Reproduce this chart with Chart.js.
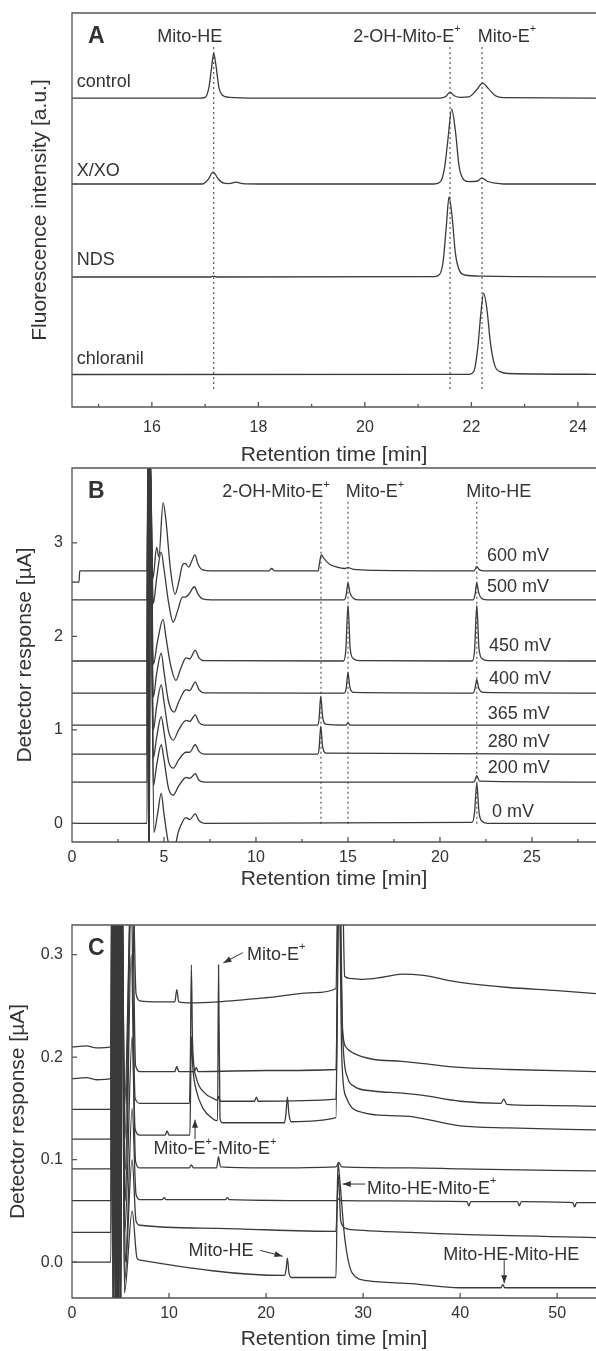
<!DOCTYPE html>
<html>
<head>
<meta charset="utf-8">
<script src="https://cdn.jsdelivr.net/npm/chart.js@4.4.0/dist/chart.umd.min.js"></script>
<style>
  body { margin: 0; background: #fff; width: 596px; height: 1351px; position: relative; overflow: hidden; }
  canvas { position: absolute; left: 0; }
</style>
</head>
<body>
<canvas id="chartA" width="596" height="470" style="top:0"></canvas>
<canvas id="chartB" width="596" height="435" style="top:465px"></canvas>
<canvas id="chartC" width="596" height="451" style="top:900px"></canvas>
<script>
// ---- panel A: fluorescence traces, [time, intensity] ----
const aTicks = [16, 18, 20, 22, 24];
const aMinor = [15, 17, 19, 21, 23];
const aMarkers = [17.16, 21.6, 22.2];
const aControl = [[14.5,78.4],[16.9,78.4],[17.0,78.6],[17.07,81],[17.12,86],[17.16,89.8],[17.2,87],[17.26,81],[17.32,79.2],[17.45,78.6],[18,78.4],[21.4,78.4],[21.52,78.8],[21.6,79.9],[21.68,79.0],[21.8,78.6],[21.95,78.7],[22.1,80.5],[22.21,82.2],[22.32,80.8],[22.45,79.0],[22.6,78.5],[24.4,78.4]];
const aXXO = [[14.5,56.6],[16.95,56.6],[17.05,57.6],[17.15,59.6],[17.25,57.8],[17.35,56.8],[17.45,56.7],[17.58,57.1],[17.7,56.7],[18,56.6],[21.3,56.6],[21.42,57.2],[21.5,61],[21.56,68],[21.63,75.6],[21.7,70],[21.77,61],[21.85,57.8],[21.95,57.2],[22.1,57.3],[22.2,58.1],[22.3,57.3],[22.45,56.8],[22.6,56.6],[24.4,56.6]];
const aNDS = [[14.5,33],[17.1,33],[17.16,33.2],[17.22,33],[21.3,33.1],[21.4,33.6],[21.47,37],[21.53,46],[21.58,53.3],[21.64,48],[21.7,39],[21.78,34.5],[21.88,33.5],[22.2,33.2],[24.4,33]];
const aChloranil = [[14.5,8.25],[21.95,8.3],[22.05,9.2],[22.12,15],[22.18,24],[22.23,28.9],[22.29,25],[22.36,16],[22.44,10.5],[22.55,8.9],[22.7,8.5],[24.4,8.3]];

// ---- panel B: detector response at each potential, [time, µA] ----
const bTicksX = [0, 5, 10, 15, 20, 25];
const bMinorX = [2.5, 7.5, 12.5, 17.5, 22.5, 27.5];
const bTicksY = [0, 1, 2, 3];
const bMarkers = [13.53, 15.0, 22.0];
const b600 = [[0,2.58],[0.38,2.58],[0.42,2.70],[4.08,2.70],[4.13,4.0],[4.18,-0.4],[4.23,4.0],[4.4,2.62],[4.6,2.95],[4.72,2.85],[4.95,3.43],[5.1,3.25],[5.35,2.72],[5.6,2.45],[5.8,2.58],[6.0,2.76],[6.15,2.78],[6.35,2.74],[6.5,2.8],[6.68,2.87],[6.85,2.77],[7.1,2.71],[7.6,2.70],[10.7,2.70],[10.85,2.725],[11.0,2.70],[13.38,2.70],[13.45,2.78],[13.55,2.87],[13.7,2.83],[14.0,2.77],[14.4,2.74],[14.8,2.725],[15.0,2.735],[15.3,2.715],[16.5,2.705],[21.85,2.70],[22.0,2.745],[22.15,2.71],[22.4,2.70],[28.6,2.70]];
const b500 = [[0,2.39],[4.08,2.39],[4.14,4.0],[4.19,-0.4],[4.24,4.0],[4.42,2.35],[4.6,2.62],[4.85,2.90],[5.0,2.72],[5.25,2.36],[5.5,2.15],[5.75,2.28],[6.0,2.42],[6.15,2.42],[6.35,2.45],[6.65,2.53],[6.85,2.45],[7.1,2.40],[7.6,2.39],[14.8,2.39],[14.9,2.44],[15.0,2.57],[15.1,2.47],[15.3,2.405],[15.6,2.39],[21.8,2.39],[21.9,2.44],[22.0,2.57],[22.1,2.47],[22.3,2.40],[22.6,2.39],[28.6,2.39]];
const b450 = [[0,1.736],[4.08,1.736],[4.13,4.0],[4.19,-0.4],[4.25,4.0],[4.42,1.7],[4.65,1.95],[4.95,2.18],[5.1,2.0],[5.35,1.7],[5.65,1.53],[5.9,1.65],[6.2,1.77],[6.4,1.76],[6.7,1.85],[6.9,1.77],[7.2,1.74],[14.75,1.736],[14.88,1.85],[15.0,2.33],[15.12,1.87],[15.3,1.76],[15.6,1.74],[21.75,1.736],[21.88,1.85],[22.0,2.33],[22.12,1.87],[22.3,1.76],[22.6,1.74],[28.6,1.736]];
const b400 = [[0,1.393],[4.08,1.393],[4.12,4.0],[4.18,-0.4],[4.24,4.0],[4.42,1.35],[4.6,1.6],[4.85,1.82],[5.0,1.62],[5.25,1.3],[5.55,1.19],[5.8,1.3],[6.2,1.43],[6.4,1.42],[6.7,1.51],[6.9,1.43],[7.2,1.395],[14.8,1.393],[14.9,1.44],[15.0,1.61],[15.1,1.46],[15.3,1.40],[21.8,1.393],[21.9,1.44],[22.0,1.54],[22.1,1.45],[22.35,1.40],[28.6,1.393]];
const b365 = [[0,1.05],[4.08,1.05],[4.14,4.0],[4.2,-0.4],[4.25,4.0],[4.42,1.0],[4.6,1.25],[4.85,1.48],[5.0,1.3],[5.25,0.98],[5.5,0.89],[5.8,1.0],[6.2,1.10],[6.4,1.09],[6.7,1.16],[6.9,1.08],[7.2,1.05],[13.35,1.05],[13.43,1.12],[13.52,1.36],[13.62,1.14],[13.8,1.06],[14.9,1.05],[15.0,1.08],[15.1,1.05],[28.6,1.05]];
const b280 = [[0,0.74],[4.08,0.74],[4.13,4.0],[4.18,-0.4],[4.23,4.0],[4.42,0.7],[4.6,0.92],[4.85,1.14],[5.0,0.98],[5.25,0.66],[5.5,0.59],[5.8,0.68],[6.2,0.76],[6.4,0.76],[6.7,0.84],[6.9,0.77],[7.2,0.74],[13.35,0.74],[13.43,0.8],[13.52,1.04],[13.62,0.82],[13.8,0.75],[28.6,0.74]];
const b200 = [[0,0.44],[4.08,0.44],[4.12,4.0],[4.19,-0.4],[4.24,4.0],[4.42,0.4],[4.6,0.62],[4.85,0.84],[5.0,0.68],[5.25,0.37],[5.5,0.30],[5.8,0.4],[6.2,0.49],[6.4,0.48],[6.7,0.53],[6.9,0.46],[7.2,0.44],[21.85,0.44],[22.0,0.51],[22.15,0.45],[28.6,0.44]];
const b0 = [[0,0],[4.08,0],[4.13,4.0],[4.2,-0.4],[4.26,4.0],[4.45,-0.1],[4.65,0.1],[4.85,0.32],[5.0,0.1],[5.25,-0.22],[5.5,-0.3],[5.8,-0.08],[6.2,0.06],[6.4,0.04],[6.7,0.10],[6.9,0.03],[7.2,0.0],[21.75,0.01],[21.88,0.12],[22.0,0.43],[22.12,0.12],[22.3,0.02],[22.6,0],[28.6,0]];

// ---- panel C: stacked chromatograms, [time, µA] ----
const cTicksX = [0, 10, 20, 30, 40, 50];
const cTicksY = [0, 0.1, 0.2, 0.3];
const c1 = [[0,0.21],[1.5,0.211],[2.5,0.209],[4.0,0.21],[4.1,0.4],[4.22,-0.05],[4.34,0.4],[4.46,-0.05],[4.58,0.4],[4.7,-0.05],[4.82,0.4],[4.94,-0.05],[5.06,0.4],[5.4,0.15],[6.2,0.4],[6.6,0.262],[7.0,0.255],[9,0.254],[10.6,0.254],[10.8,0.266],[11.0,0.254],[12.3,0.253],[15,0.254],[20,0.258],[25,0.263],[27.2,0.267],[27.45,0.4],[27.8,0.4],[28.1,0.279],[28.6,0.277],[30,0.276],[32,0.278],[34,0.281],[36,0.28],[40,0.273],[45,0.268],[50,0.265],[54,0.262]];
const c2 = [[0,0.179],[1.5,0.18],[2.5,0.178],[4.0,0.179],[4.115,0.4],[4.235,-0.05],[4.355,0.4],[4.475,-0.05],[4.595,0.4],[4.715,-0.05],[4.835,0.4],[4.955,-0.05],[5.075,0.4],[5.45,0.12],[6.15,0.4],[6.55,0.192],[7.0,0.186],[10.6,0.186],[10.8,0.191],[11.0,0.186],[12.6,0.186],[12.8,0.19],[13.0,0.186],[20,0.187],[27.2,0.188],[27.5,0.4],[27.85,0.23],[28.3,0.209],[29,0.204],[31,0.198],[34,0.196],[36,0.194],[40,0.19],[45,0.188],[54,0.186]];
const c3 = [[0,0.149],[4.0,0.149],[4.13,0.4],[4.25,-0.05],[4.37,0.4],[4.49,-0.05],[4.61,0.4],[4.73,-0.05],[4.85,0.4],[4.97,-0.05],[5.09,0.4],[5.5,0.09],[6.1,0.35],[6.5,0.16],[7.0,0.155],[12.1,0.155],[12.2,0.2],[12.3,0.29],[12.42,0.215],[12.8,0.18],[13.7,0.165],[14.5,0.16],[15.0,0.158],[15.1,0.162],[15.3,0.157],[18.8,0.157],[19.0,0.161],[19.2,0.157],[27.2,0.159],[27.55,0.4],[27.9,0.22],[28.4,0.18],[29,0.172],[31,0.167],[34,0.165],[36,0.163],[40,0.157],[44.2,0.155],[44.5,0.159],[44.8,0.154],[48,0.153],[54,0.152]];
const c4 = [[0,0.12],[4.0,0.12],[4.145,0.4],[4.265,-0.05],[4.385,0.4],[4.505,-0.05],[4.625,0.4],[4.745,-0.05],[4.865,0.4],[4.985,-0.05],[5.105,0.4],[5.5,0.06],[6.1,0.3],[6.5,0.13],[7.0,0.124],[9.6,0.124],[9.8,0.128],[10.0,0.124],[12.15,0.124],[12.3,0.22],[12.45,0.19],[12.8,0.168],[13.5,0.15],[14.5,0.14],[15.0,0.138],[15.1,0.29],[15.25,0.14],[15.5,0.136],[21.9,0.136],[22.05,0.145],[22.2,0.161],[22.35,0.145],[22.6,0.137],[27.2,0.141],[27.5,0.4],[27.8,0.2],[28.3,0.16],[30,0.146],[33,0.143],[35,0.142],[40,0.133],[45,0.131],[54,0.129]];
const c5 = [[0,0.091],[4.0,0.091],[4.16,0.4],[4.28,-0.05],[4.4,0.4],[4.52,-0.05],[4.64,0.4],[4.76,-0.05],[4.88,0.4],[5.0,-0.05],[5.12,0.4],[5.45,0.03],[6.2,0.22],[6.55,0.098],[7.0,0.092],[12.1,0.092],[12.3,0.095],[12.5,0.092],[14.9,0.092],[15.1,0.103],[15.3,0.093],[20,0.092],[27.2,0.093],[27.5,0.097],[27.8,0.093],[35,0.092],[40,0.091],[54,0.089]];
const c6 = [[0,0.06],[4.0,0.06],[4.175,0.4],[4.295,-0.05],[4.415,0.4],[4.535,-0.05],[4.655,0.4],[4.775,-0.05],[4.895,0.4],[5.015,-0.05],[5.135,0.4],[5.5,0.0],[6.2,0.15],[6.6,0.066],[7.0,0.061],[9.3,0.061],[9.5,0.063],[9.7,0.061],[15.8,0.061],[16.0,0.063],[16.2,0.061],[27.3,0.06],[27.5,0.062],[27.7,0.06],[40.7,0.059],[40.9,0.055],[41.1,0.059],[45.9,0.059],[46.1,0.055],[46.3,0.059],[51.6,0.058],[51.8,0.054],[52.0,0.058],[54,0.058]];
const c7 = [[0,0.029],[4.0,0.029],[4.19,0.4],[4.31,-0.05],[4.43,0.4],[4.55,-0.05],[4.67,0.4],[4.79,-0.05],[4.91,0.4],[5.03,-0.05],[5.15,0.4],[5.4,-0.02],[6.2,0.1],[6.6,0.04],[7.0,0.036],[15,0.033],[27.2,0.03],[27.45,0.085],[27.7,0.04],[28.2,0.033],[30,0.031],[35,0.029],[40,0.027],[54,0.024]];
const c8 = [[0,0.0],[4.0,0.0],[4.205,0.4],[4.325,-0.05],[4.445,0.4],[4.565,-0.05],[4.685,0.4],[4.805,-0.05],[4.925,0.4],[5.045,-0.05],[5.165,0.4],[5.4,-0.03],[6.2,0.05],[6.7,0.004],[7.0,0.002],[21.9,-0.013],[22.05,-0.008],[22.2,0.004],[22.35,-0.01],[22.6,-0.015],[27.2,-0.015],[27.4,0.097],[27.6,0.08],[28.1,0.024],[28.9,-0.011],[30.4,-0.018],[35,-0.021],[40,-0.025],[44.2,-0.025],[44.4,-0.022],[44.6,-0.025],[54,-0.025]];

const FAM = '"Liberation Sans", Arial, Helvetica, sans-serif';
const INK = '#333';
const LINE = '#3a3a3a';

function richText(ctx, text, px, py, align, size, weight) {
  const parts = text.split('\u207A');
  const main = `${weight} ${size}px ${FAM}`;
  const sup = `${weight} ${Math.round(size * 0.6)}px ${FAM}`;
  let w = 0;
  parts.forEach((p, i) => {
    ctx.font = main; w += ctx.measureText(p).width;
    if (i < parts.length - 1) { ctx.font = sup; w += ctx.measureText('+').width; }
  });
  let cx = align === 'center' ? px - w / 2 : align === 'right' ? px - w : px;
  ctx.textAlign = 'left';
  ctx.textBaseline = 'middle';
  parts.forEach((p, i) => {
    ctx.font = main; ctx.fillText(p, cx, py); cx += ctx.measureText(p).width;
    if (i < parts.length - 1) {
      ctx.font = sup; ctx.fillText('+', cx, py - size * 0.42); cx += ctx.measureText('+').width;
    }
  });
}

// frame (no right edge, the figure is cut there), inward ticks, labels, arrows
const decor = {
  id: 'decor',
  afterDatasetsDraw(chart, args, o) {
    const { ctx, chartArea: a, scales: { x, y } } = chart;
    ctx.save();
    ctx.strokeStyle = '#555';
    ctx.lineWidth = 1.3;
    ctx.beginPath();
    ctx.moveTo(a.right + 2, a.top); ctx.lineTo(a.left, a.top);
    ctx.lineTo(a.left, a.bottom); ctx.lineTo(a.right + 2, a.bottom);
    (o.xMajor || []).forEach(v => { const p = x.getPixelForValue(v); ctx.moveTo(p, a.bottom); ctx.lineTo(p, a.bottom - 5); });
    (o.xMinor || []).forEach(v => { const p = x.getPixelForValue(v); ctx.moveTo(p, a.bottom); ctx.lineTo(p, a.bottom - 3); });
    (o.yMajor || []).forEach(v => { const p = y.getPixelForValue(v); ctx.moveTo(a.left, p); ctx.lineTo(a.left + 5, p); });
    ctx.stroke();
    ctx.fillStyle = INK;
    richText(ctx, o.letter, a.left + 16, a.top + 24, 'left', 23, 'bold');
    (o.notes || []).forEach(n => richText(ctx, n.text, x.getPixelForValue(n.x), y.getPixelForValue(n.y), n.align || 'left', 18, 'normal'));
    ctx.strokeStyle = INK;
    ctx.lineWidth = 1;
    (o.arrows || []).forEach(([x0, y0, x1, y1]) => {
      const p0 = [x.getPixelForValue(x0), y.getPixelForValue(y0)];
      const p1 = [x.getPixelForValue(x1), y.getPixelForValue(y1)];
      const ang = Math.atan2(p1[1] - p0[1], p1[0] - p0[0]);
      ctx.beginPath(); ctx.moveTo(p0[0], p0[1]); ctx.lineTo(p1[0], p1[1]); ctx.stroke();
      ctx.beginPath();
      ctx.moveTo(p1[0], p1[1]);
      ctx.lineTo(p1[0] - 8 * Math.cos(ang) + 3 * Math.sin(ang), p1[1] - 8 * Math.sin(ang) - 3 * Math.cos(ang));
      ctx.lineTo(p1[0] - 8 * Math.cos(ang) - 3 * Math.sin(ang), p1[1] - 8 * Math.sin(ang) + 3 * Math.cos(ang));
      ctx.closePath(); ctx.fill();
    });
    ctx.restore();
  }
};

function panel(id, s) {
  const datasets = s.series.map(pts => ({
    data: pts.map(([x, y]) => ({ x, y })),
    borderColor: LINE, borderWidth: 1.3, cubicInterpolationMode: 'monotone', pointRadius: 0, fill: false
  }));
  s.markers.forEach(t => datasets.push({
    data: [{ x: t, y: s.markerSpan[0] }, { x: t, y: s.markerSpan[1] }],
    borderColor: '#666', borderWidth: 1.3, borderDash: [2, 3], pointRadius: 0, fill: false
  }));
  const tickFont = { family: FAM, size: 16 };
  const titleFont = { family: FAM, size: 21, lineHeight: 1.1 };
  return new Chart(document.getElementById(id), {
    type: 'line',
    data: { datasets },
    plugins: [decor],
    options: {
      responsive: false,
      animation: false,
      layout: { padding: { top: s.top, left: 0, right: 0, bottom: 0 } },
      plugins: {
        legend: { display: false },
        tooltip: { enabled: false },
        decor: { letter: s.letter, xMajor: s.xTicks, xMinor: s.xMinor, yMajor: s.yTicks, notes: s.notes, arrows: s.arrows }
      },
      scales: {
        x: {
          type: 'linear', min: s.xRange[0], max: s.xRange[1],
          afterBuildTicks: sc => { sc.ticks = s.xTicks.map(v => ({ value: v })); },
          afterFit: sc => { sc.height = s.xHeight; sc.paddingLeft = 0; sc.paddingRight = 0; },
          grid: { display: false, drawTicks: false }, border: { display: false },
          ticks: { font: tickFont, color: INK, padding: s.xPad, maxRotation: 0, autoSkip: false },
          title: { display: true, text: 'Retention time [min]', font: titleFont, color: INK, padding: { top: 0, bottom: s.xTitlePad } }
        },
        y: {
          type: 'linear', min: s.yRange[0], max: s.yRange[1],
          afterBuildTicks: sc => { sc.ticks = (s.yTicks || []).map(v => ({ value: v })); },
          afterFit: sc => { sc.width = 72; sc.paddingTop = 0; sc.paddingBottom = 0; },
          grid: { display: false, drawTicks: false }, border: { display: false },
          ticks: { display: !!s.yTicks, font: tickFont, color: INK, padding: 9, autoSkip: false, callback: s.yFormat },
          title: { display: true, text: s.yTitle, font: titleFont, color: INK, padding: { top: s.yTitlePad, bottom: 0 } }
        }
      }
    }
  });
}

panel('chartA', {
  letter: 'A', top: 13, xHeight: 63, xPad: 11, xTitlePad: 3, yTitlePad: 29,
  xRange: [14.5, 24.34], yRange: [0, 100],
  xTicks: aTicks, xMinor: aMinor, yTicks: null,
  yTitle: 'Fluorescence intensity [a.u.]',
  series: [aControl, aXXO, aNDS, aChloranil],
  markers: aMarkers, markerSpan: [91.4, 4.3],
  notes: [
    { text: 'control', x: 14.59, y: 82.4 },
    { text: 'X/XO', x: 14.59, y: 59.9 },
    { text: 'NDS', x: 14.59, y: 37.4 },
    { text: 'chloranil', x: 14.59, y: 12.3 },
    { text: 'Mito-HE', x: 16.71, y: 94.0, align: 'center' },
    { text: '2-OH-Mito-E\u207A', x: 20.79, y: 94.0, align: 'center' },
    { text: 'Mito-E\u207A', x: 22.67, y: 94.0, align: 'center' }
  ],
  arrows: []
});

panel('chartB', {
  letter: 'B', top: 3, xHeight: 58, xPad: 6, xTitlePad: 9, yTitlePad: 14,
  xRange: [0, 28.48], yRange: [-0.2, 3.8],
  xTicks: bTicksX, xMinor: bMinorX, yTicks: bTicksY, yFormat: v => String(v),
  yTitle: 'Detector response [\u00B5A]',
  series: [b600, b500, b450, b400, b365, b280, b200, b0],
  markers: bMarkers, markerSpan: [3.44, -0.03],
  notes: [
    { text: '600 mV', x: 22.55, y: 2.86 },
    { text: '500 mV', x: 22.55, y: 2.53 },
    { text: '450 mV', x: 22.66, y: 1.90 },
    { text: '400 mV', x: 22.66, y: 1.54 },
    { text: '365 mV', x: 22.6, y: 1.17 },
    { text: '280 mV', x: 22.6, y: 0.87 },
    { text: '200 mV', x: 22.6, y: 0.59 },
    { text: '0 mV', x: 22.83, y: 0.12 },
    { text: '2-OH-Mito-E\u207A', x: 11.09, y: 3.54, align: 'center' },
    { text: 'Mito-E\u207A', x: 16.47, y: 3.54, align: 'center' },
    { text: 'Mito-HE', x: 23.2, y: 3.54, align: 'center' }
  ],
  arrows: []
});

panel('chartC', {
  letter: 'C', top: 25, xHeight: 53, xPad: 6, xTitlePad: 0, yTitlePad: 7,
  xRange: [0, 54.0], yRange: [-0.035, 0.329],
  xTicks: cTicksX, xMinor: [], yTicks: cTicksY, yFormat: v => v.toFixed(1),
  yTitle: 'Detector response [\u00B5A]',
  series: [c1, c2, c3, c4, c5, c6, c7, c8],
  markers: [], markerSpan: [0, 0],
  notes: [
    { text: 'Mito-E\u207A', x: 18.04, y: 0.300 },
    { text: 'Mito-E\u207A-Mito-E\u207A', x: 14.74, y: 0.110, align: 'center' },
    { text: 'Mito-HE', x: 18.7, y: 0.0107, align: 'right' },
    { text: 'Mito-HE-Mito-E\u207A', x: 30.4, y: 0.0718 },
    { text: 'Mito-HE-Mito-HE', x: 38.25, y: 0.0072 }
  ],
  arrows: [
    [17.6, 0.302, 15.6, 0.292],
    [12.68, 0.120, 12.68, 0.139],
    [19.4, 0.0115, 21.7, 0.0058],
    [30.2, 0.0762, 27.9, 0.0762],
    [44.54, 0.0019, 44.54, -0.0206]
  ]
});
</script>
</body>
</html>
